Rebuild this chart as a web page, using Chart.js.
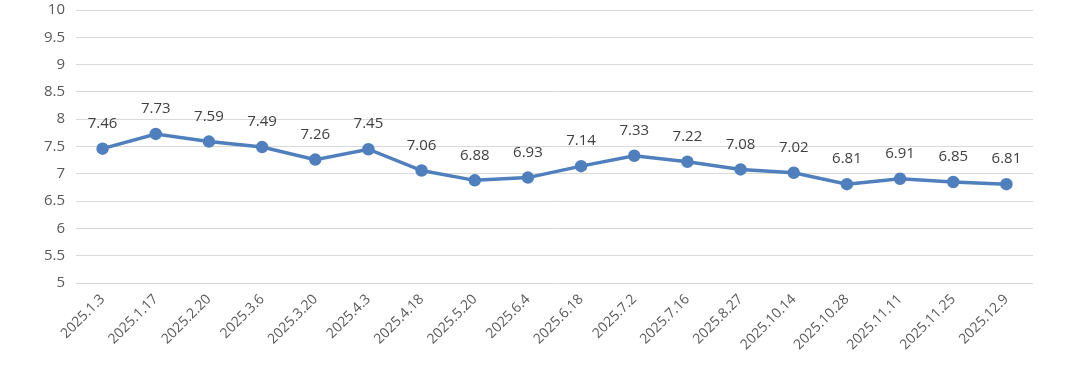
<!DOCTYPE html>
<html>
<head>
<meta charset="utf-8">
<script src="https://cdn.jsdelivr.net/npm/chart.js@4/dist/chart.umd.min.js"></script>
<style>
  html, body { margin: 0; padding: 0; background: #fff; }
  #wrap { width: 1080px; height: 373px; position: relative; }
</style>
</head>
<body>
<div id="wrap"><canvas id="myChart"></canvas></div>
<script>
'use strict';

const dates = ['2025.1.3', '2025.1.17', '2025.2.20', '2025.3.6', '2025.3.20', '2025.4.3',
  '2025.4.18', '2025.5.20', '2025.6.4', '2025.6.18', '2025.7.2', '2025.7.16',
  '2025.8.27', '2025.10.14', '2025.10.28', '2025.11.11', '2025.11.25', '2025.12.9'];
const values = [7.46, 7.73, 7.59, 7.49, 7.26, 7.45, 7.06, 6.88, 6.93, 7.14, 7.33, 7.22,
  7.08, 7.02, 6.81, 6.91, 6.85, 6.81];
const yMin = 5;
const yMax = 10;
const yStep = 0.5;

const fontFamily = "'Open Sans', 'Noto Sans', sans-serif";

// value labels above each point
const pointLabels = {
  id: 'pointLabels',
  afterDatasetsDraw(chart) {
    const { ctx } = chart;
    const meta = chart.getDatasetMeta(0);
    ctx.save();
    ctx.font = '15px ' + fontFamily;
    ctx.fillStyle = '#404040';
    ctx.textAlign = 'center';
    ctx.textBaseline = 'middle';
    meta.data.forEach((pt, i) => {
      ctx.fillText(values[i].toFixed(2), pt.x, pt.y - 25);
    });
    ctx.restore();
  }
};

const config = {
  type: 'line',
  data: {
    labels: dates,
    datasets: [{
      data: values,
      borderColor: '#4f7fbd',
      backgroundColor: '#4f7fbd',
      borderWidth: 3.5,
      pointRadius: 4.5,
      pointHoverRadius: 4.5,
      tension: 0
    }]
  },
  options: {
    responsive: true,
    maintainAspectRatio: false,
    animation: false,
    layout: { padding: { top: 10, right: 47, left: 0, bottom: 0 } },
    plugins: {
      legend: { display: false },
      tooltip: { enabled: false }
    },
    scales: {
      x: {
        offset: true,
        grid: { display: false, drawTicks: false },
        border: { display: false },
        ticks: {
          minRotation: 45,
          maxRotation: 45,
          padding: 8,
          color: '#595959',
          font: { size: 14, family: fontFamily }
        },
        afterFit(scale) {
          scale.height = 90;
          scale.paddingLeft = 0;
          scale.paddingRight = 0;
        }
      },
      y: {
        min: yMin,
        max: yMax,
        grid: { color: '#d9d9d9', lineWidth: 1, drawTicks: false },
        border: { display: false },
        ticks: {
          stepSize: yStep,
          padding: 11,
          color: '#595959',
          font: { size: 15, family: fontFamily },
          callback: v => String(v)
        },
        afterFit(scale) {
          scale.width = 76;
          scale.paddingTop = 0;
          scale.paddingBottom = 0;
        }
      }
    }
  },
  plugins: [pointLabels]
};

const myChart = new Chart(document.getElementById('myChart'), config);
</script>
</body>
</html>
